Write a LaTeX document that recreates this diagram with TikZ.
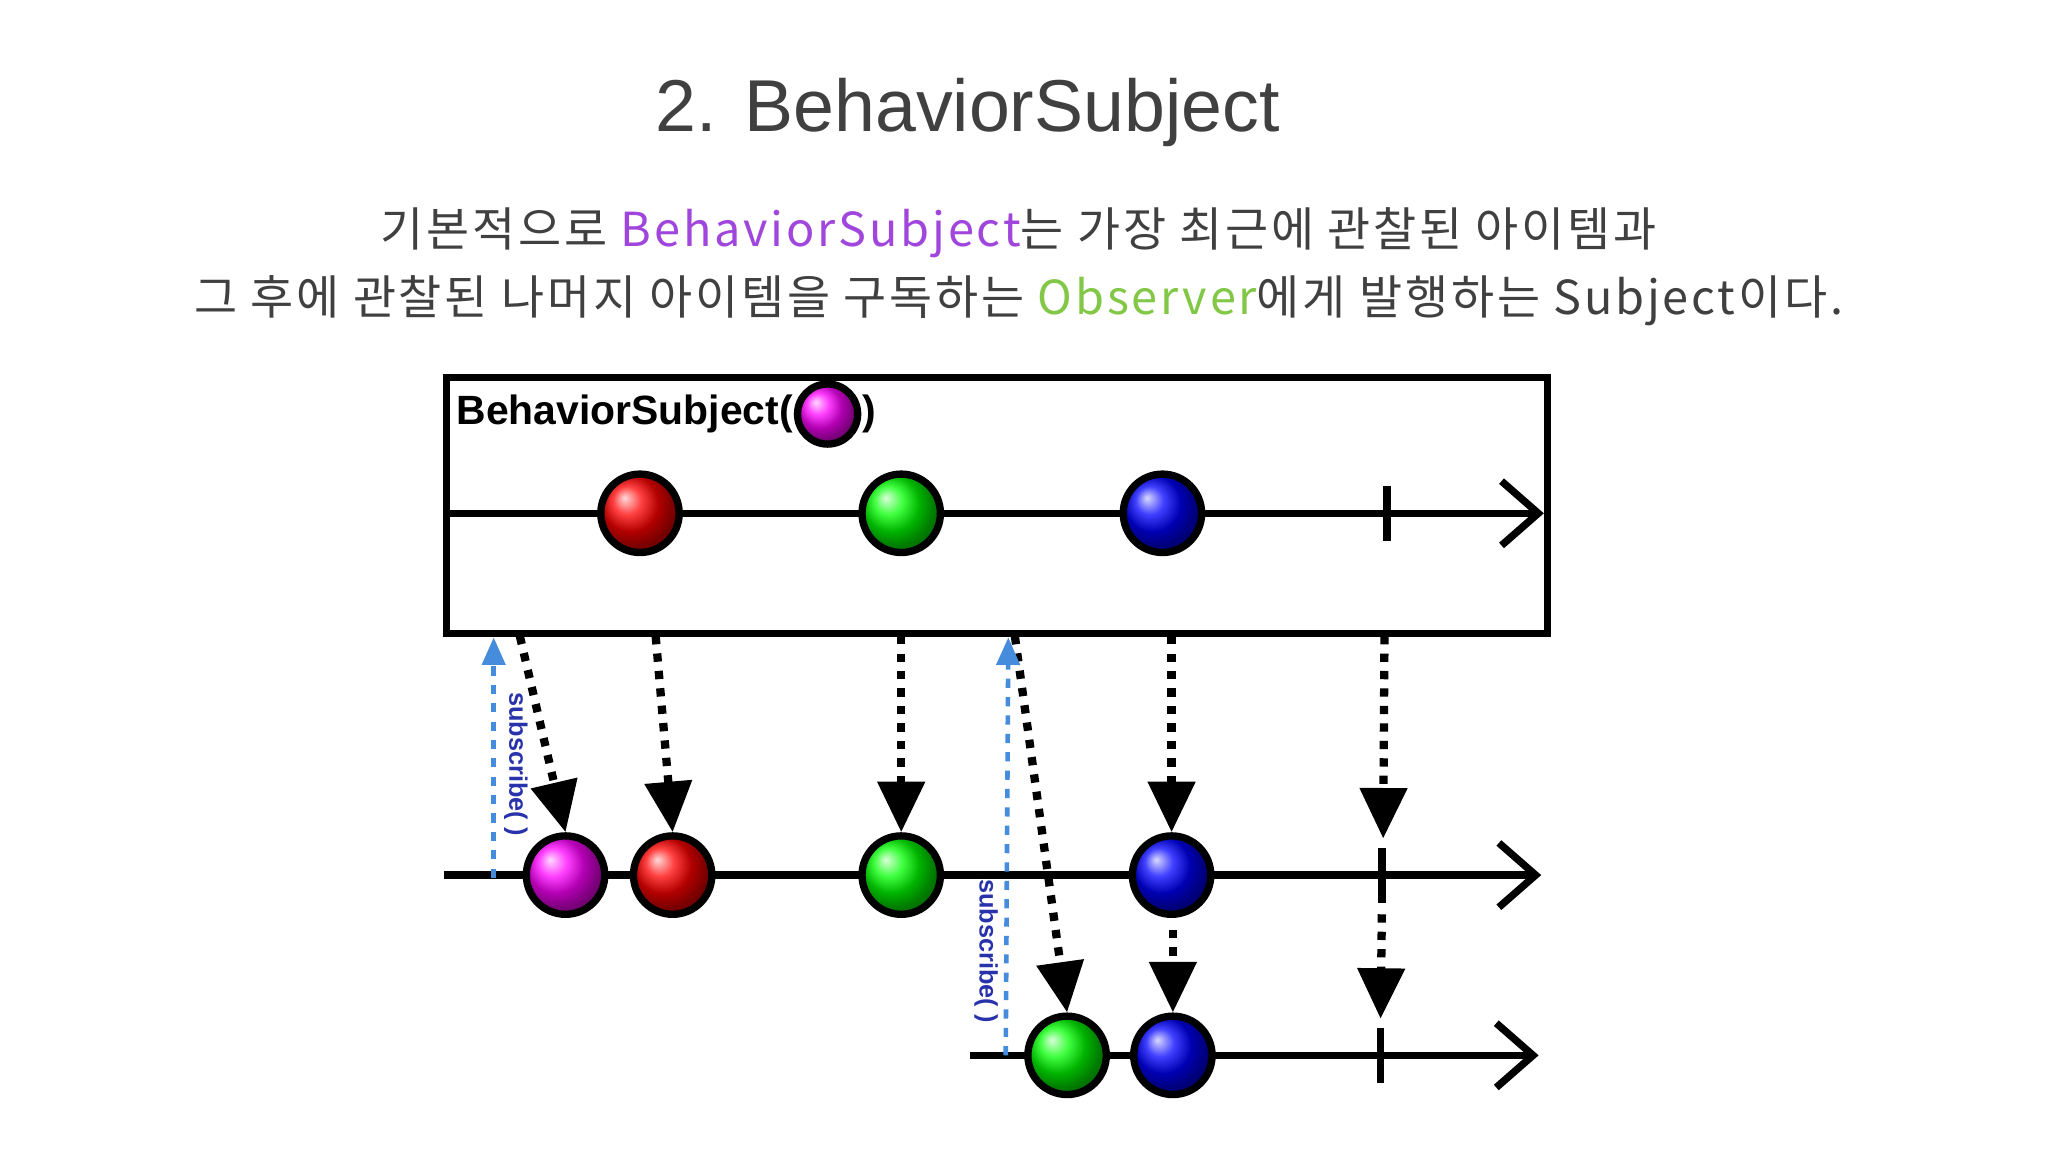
\documentclass[tikz,border=0pt]{standalone}
\usepackage{fontspec}
\setmainfont{Liberation Sans}
\newfontfamily\kr{Noto Sans CJK KR}[Scale=1]
\usetikzlibrary{arrows.meta}
\definecolor{titlegray}{RGB}{64,64,64}
\definecolor{bspurple}{RGB}{160,70,220}
\definecolor{obsgreen}{RGB}{130,200,70}
\definecolor{subblue}{RGB}{70,140,220}
\definecolor{sublabel}{RGB}{40,50,170}
\tikzset{
 marble/.style={circle,draw=black,line width=1.6pt,minimum size=0.6cm,inner sep=0pt,ball color=#1},
 tl/.style={line width=1.6pt,-{Straight Barb[length=8pt,width=14pt,line width=1.6pt]}},
 evt/.style={line width=1.8pt,dotted,-{Triangle[length=11pt,width=10pt,line cap=butt]}},
 sub/.style={line width=1pt,dashed,dash pattern=on 2pt off 2pt,draw=subblue,-{Triangle[length=6pt,width=5pt]}},
 sublab/.style={font=\fontsize{5.5}{6}\selectfont\bfseries,text=sublabel,rotate=-90,inner sep=0pt},
 tick/.style={line width=1.6pt}
}
\begin{document}
\begin{tikzpicture}[x=0.01cm,y=-0.01cm]
\useasboundingbox (0,0) rectangle (1568,882);
\fill[white] (0,0) rectangle (1568,882);
\node[text=titlegray,font=\fontsize{16}{19}\selectfont] (title) at (741,86) {2. BehaviorSubject};
\node[text=titlegray,font=\kr\fontsize{10.2}{12}\selectfont\addfontfeatures{LetterSpace=6}] (l1) at (780,178) {기본적으로 \textcolor{bspurple}{BehaviorSubject}는 가장 최근에 관찰된 아이템과};
\node[text=titlegray,font=\kr\fontsize{10.2}{12}\selectfont\addfontfeatures{LetterSpace=6}] (l2) at (780,230) {그 후에 관찰된 나머지 아이템을 구독하는 \textcolor{obsgreen}{Observer}에게 발행하는 Subject이다.};
% box
\draw[line width=1.5pt] (342,289) rectangle (1185,485);
\node[anchor=west,font=\bfseries\fontsize{8.9}{10}\selectfont,inner sep=0pt] (lab) at (349,317) {BehaviorSubject(};
\node[marble=magenta,minimum size=0.46cm,anchor=west] (m0) at (lab.east) {};
\node[anchor=west,font=\bfseries\fontsize{8.9}{10}\selectfont,inner sep=0pt] (lab2) at (m0.east) {)};
% timeline 1
\coordinate (a0) at (342,393); \coordinate (a1) at (1182,393);
\draw[tl] (a0) -- (a1);
\draw[tick] (1062,372) -- (1062,414);
\node[marble=red] (r1) at (490,393) {};
\node[marble=green] (g1) at (690,393) {};
\node[marble=blue] (b1) at (890,393) {};
% timeline 2
\coordinate (c0) at (340,670); \coordinate (c1) at (1180,670);
\draw[tl] (c0) -- (c1);
\draw[tick] (1058,649) -- (1058,691);
% timeline 3
\coordinate (d0) at (743,808); \coordinate (d1) at (1178,808);
\draw[tl] (d0) -- (d1);
\draw[tick] (1057,787) -- (1057,829);
% events
\coordinate (e1) at (398,487); \coordinate (e2) at (502,487); \coordinate (e3) at (690,487);
\coordinate (e4) at (897,487); \coordinate (e5) at (1060,487); \coordinate (e6) at (777,487);
\coordinate (e7) at (898,712); \coordinate (e8) at (1058,700);
\coordinate (t5) at (1059,642); \coordinate (t8) at (1057,780);
\node[marble=magenta] (m2) at (433,670) {};
\node[marble=red] (r2) at (515,670) {};
\node[marble=green] (g2) at (690,670) {};
\node[marble=blue] (b2) at (897,670) {};
\node[marble=green] (g3) at (817,808) {};
\node[marble=blue] (b3) at (898,808) {};
\draw[evt] (e1) -- (m2.north);
\draw[evt] (e2) -- (r2.north);
\draw[evt] (e3) -- (g2.north);
\draw[evt] (e4) -- (b2.north);
\draw[evt] (e5) -- (t5);
\draw[evt] (e6) -- (g3.north);
\draw[evt] (e7) -- (b3.north);
\draw[evt] (e8) -- (t8);
% subscribe
\coordinate (s1a) at (378,672); \coordinate (s1b) at (378,488);
\coordinate (s2a) at (770,808); \coordinate (s2b) at (772,488);
\draw[sub] (s1a) -- (s1b);
\draw[sub] (s2a) -- (s2b);
\node[sublab] (sl1) at (395,585) {subscribe( )};
\node[sublab] (sl2) at (755,728) {subscribe( )};
\end{tikzpicture}
\end{document}
